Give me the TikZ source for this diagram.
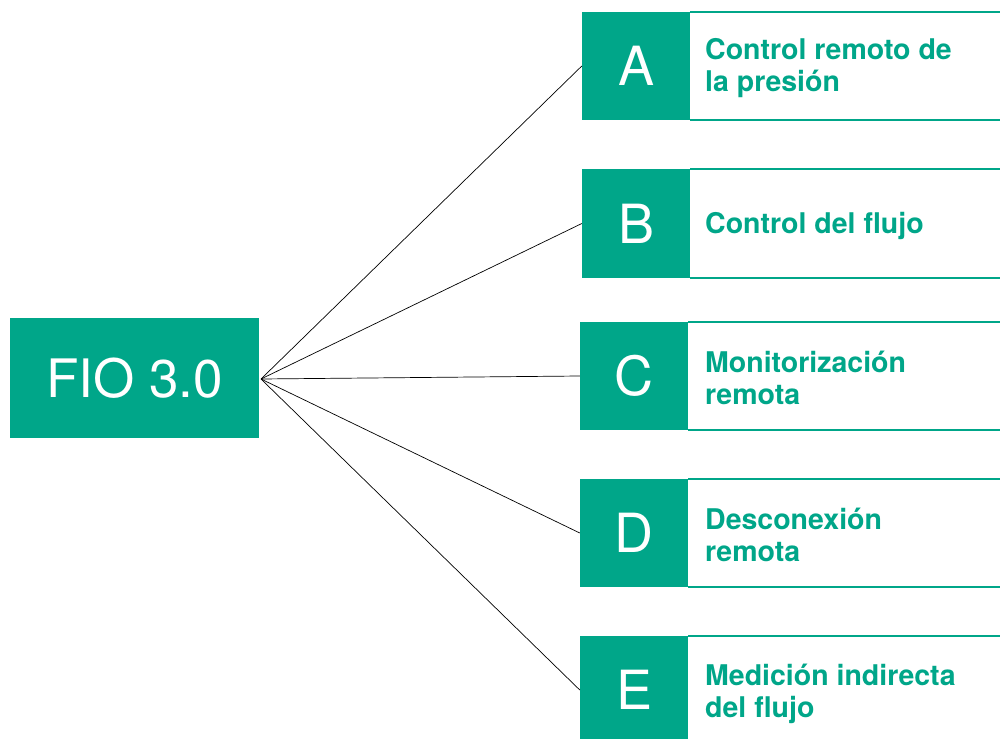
\documentclass[tikz,border=0pt]{standalone}
\usepackage{fontspec}
\setmainfont{TeX Gyre Heros}
\definecolor{fioteal}{RGB}{0,166,137}

\tikzset{
  letterbox/.style={fill=fioteal, text=white, minimum width=108, minimum height=108,
    inner sep=0, font=\fontsize{54}{54}\selectfont},
  itemtext/.style={anchor=west, inner sep=0, align=left, text=fioteal,
    font=\bfseries\fontsize{28.5}{32}\selectfont},
  panelline/.style={fioteal, line width=1.6},
  spoke/.style={black, line width=0.7}
}

\begin{document}
\begin{tikzpicture}[x=1pt, y=-1pt]

  \useasboundingbox (0,0) rectangle (1000,738);

  % --- Central block ---
  \node[fill=fioteal, text=white, minimum width=249, minimum height=120, inner sep=0,
    font=\fontsize{53}{53}\selectfont] (fio) at (134.5,378) {FIO 3.0};
  \coordinate (hub) at (261,379);

  % --- Letter blocks ---
  \node[letterbox] (A) at (636,66) {A};
  \node[letterbox] (B) at (636,223.5) {B};
  \node[letterbox] (C) at (634,376) {C};
  \node[letterbox] (D) at (634,533) {D};
  \node[letterbox] (E) at (634,690) {E};

  % --- Panel borders ---
  \foreach \n in {A,B,C,D,E} {
    \draw[panelline] (\n.north east) -- (\n.north east -| 1000,0);
    \draw[panelline] (\n.south east) -- (\n.south east -| 1000,0);
  }

  % --- Texts ---
  \node[itemtext] (tA) at (705,68) {Control remoto de\\la presión};
  \node[itemtext] (tB) at (705,226) {Control del flujo};
  \node[itemtext] (tC) at (705,378) {Monitorización\\remota};
  \node[itemtext] (tD) at (705,535) {Desconexión\\remota};
  \node[itemtext] (tE) at (705,694) {Medición indirecta\\del flujo};

  % --- Spokes ---
  \foreach \n in {A,B,C,D,E}
    \draw[spoke] (hub) -- (\n.west);

\end{tikzpicture}
\end{document}
